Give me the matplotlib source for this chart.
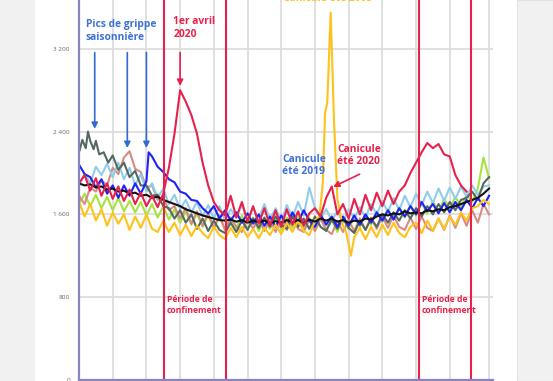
import numpy as np
import matplotlib.pyplot as plt
from matplotlib.patches import Rectangle

plt.rcParams['font.family'] = ['Open Sans', 'DejaVu Sans']

# jours de l'année (pas de 5 jours)
jours = list(range(0, 366, 5))

# moyenne (noir)
moyenne = [1900, 1880, 1890, 1860, 1870, 1840, 1850, 1820, 1830, 1800,
           1810, 1780, 1790, 1760, 1770, 1740, 1720, 1700, 1680, 1650,
           1630, 1610, 1590, 1575, 1560, 1545, 1540, 1550, 1530, 1545,
           1520, 1540, 1525, 1540, 1515, 1535, 1520, 1545, 1525, 1545,
           1520, 1550, 1530, 1560, 1540, 1560, 1530, 1545, 1520, 1540,
           1530, 1560, 1550, 1580, 1600, 1590, 1610, 1600, 1630, 1610,
           1620, 1610, 1640, 1630, 1650, 1640, 1670, 1680, 1700, 1720,
           1740, 1760, 1800, 1850]

bleu_clair = [1880, 1990, 1900, 2060, 1980, 2090, 1960, 2100, 1940, 2050,
              1880, 1990, 1820, 1900, 1760, 1850, 1700, 1790, 1650, 1740,
              1620, 1720, 1580, 1690, 1560, 1680, 1540, 1650, 1570, 1690,
              1540, 1660, 1560, 1700, 1550, 1660, 1530, 1690, 1570, 1720,
              1590, 1860, 1660, 1560, 1650, 1540, 1630, 1520, 1650, 1560,
              1670, 1570, 1700, 1600, 1730, 1620, 1760, 1640, 1780, 1670,
              1800, 1690, 1820, 1710, 1850, 1730, 1860, 1750, 1870, 1770,
              1880, 1790, 1870, 1880]

vert = [1700, 1800, 1680, 1790, 1660, 1770, 1640, 1760, 1630, 1730,
        1620, 1720, 1590, 1700, 1570, 1680, 1550, 1650, 1520, 1630,
        1500, 1610, 1480, 1590, 1460, 1580, 1450, 1560, 1470, 1590,
        1450, 1570, 1440, 1560, 1460, 1580, 1450, 1570, 1470, 1590,
        1460, 1570, 1440, 1560, 1450, 1550, 1430, 1570, 1460, 1580,
        1480, 1600, 1500, 1630, 1530, 1650, 1550, 1670, 1570, 1690,
        1590, 1710, 1610, 1730, 1620, 1750, 1650, 1770, 1670, 1790,
        1720, 1850, 2150, 1950]

saumon = [1780, 1700, 1860, 1820, 1930, 1880, 2050, 1990, 2150, 2210,
          2040, 2010, 1860, 1880, 1740, 1760, 1640, 1680, 1560, 1660,
          1510, 1630, 1490, 1610, 1470, 1590, 1450, 1570, 1480, 1430,
          1560, 1460, 1570, 1440, 1550, 1430, 1560, 1450, 1570, 1460,
          1430, 1550, 1440, 1560, 1450, 1410, 1540, 1430, 1550, 1440,
          1560, 1450, 1570, 1460, 1580, 1470, 1590, 1480, 1450, 1570,
          1460, 1580, 1470, 1440, 1560, 1450, 1590, 1470, 1610, 1490,
          1640, 1520, 1700, 1600]

# 2020 (données jusqu'à mi-décembre)
annee_2020 = [1900, 1980, 1830, 1950, 1780, 1900, 1750, 1870, 1730, 1840,
              1700, 1810, 1680, 1780, 1670, 1800, 2050, 2380, 2800, 2690,
              2560, 2380, 2100, 1880, 1720, 1640, 1590, 1780, 1570, 1720,
              1530, 1680, 1510, 1660, 1490, 1640, 1480, 1650, 1500, 1630,
              1490, 1610, 1660, 1580, 1760, 1870, 1600, 1700, 1560, 1750,
              1600, 1790, 1640, 1810, 1680, 1830, 1700, 1820, 1880, 2000,
              2100, 2200, 2290, 2240, 2280, 2180, 2160, 1980, 1880, 1820]

# 2003
jours_2003 = list(range(0, 211, 5)) + [214, 217, 219, 221, 224, 227, 230, 234, 238, 242, 245] + list(range(250, 366, 5))
annee_2003 = [1720, 1580, 1700, 1540, 1650, 1490, 1620, 1510, 1600, 1450,
              1580, 1470, 1600, 1460, 1430, 1540, 1430, 1520, 1400, 1500,
              1390, 1490, 1420, 1370, 1480, 1400, 1360, 1470, 1380, 1480,
              1380, 1460, 1370, 1470, 1400, 1500, 1410, 1520, 1430, 1540,
              1440, 1400, 1540,
              1580, 1900, 2580, 2680, 3550, 2500, 1750, 1520, 1420, 1200, 1380,
              1470, 1360, 1480, 1380, 1500, 1400, 1520, 1420, 1380, 1480,
              1520, 1420, 1540, 1440, 1560, 1460, 1580, 1500, 1620, 1540,
              1660, 1680, 1740, 1700]

jours_bleu = list(range(0, 61, 5)) + [62] + list(range(65, 366, 5))
bleu = [2080, 1990, 1960, 1860, 1940, 1800, 1880, 1760, 1880, 1780, 1900, 1800, 1920,
        2200,
        2160, 2060, 2010, 1940, 1910, 1820, 1800, 1740, 1730, 1660,
        1610, 1680, 1560, 1640, 1540, 1620, 1520, 1610, 1510, 1600,
        1490, 1580, 1480, 1590, 1500, 1620, 1520, 1640, 1540, 1480,
        1600, 1500, 1580, 1480, 1580, 1490, 1590, 1500, 1600, 1520,
        1620, 1540, 1640, 1550, 1660, 1580, 1680, 1600, 1720, 1630,
        1700, 1610, 1710, 1620, 1720, 1640, 1740, 1660, 1760, 1680,
        1780]

jours_gris = [0, 3, 6, 8, 10, 13, 15, 18, 22, 26, 30] + list(range(35, 366, 5))
gris = [2200, 2320, 2240, 2400, 2310, 2230, 2310, 2180, 2200, 2100, 2170,
        2030, 2100, 1960, 2020, 1880, 1880, 1780, 1790, 1680, 1660,
        1560, 1640, 1520, 1600, 1460, 1560, 1440, 1540, 1450, 1420,
        1520, 1430, 1540, 1450, 1560, 1470, 1570, 1480, 1580, 1500,
        1460, 1580, 1480, 1560, 1460, 1580, 1480, 1440, 1550, 1460,
        1560, 1470, 1420, 1540, 1450, 1560, 1480, 1600, 1520, 1620,
        1540, 1640, 1560, 1660, 1580, 1680, 1600, 1700, 1620, 1720,
        1640, 1740, 1760, 1820, 1740, 1900, 1960]

confinements = [76, 131, 303, 349]

ROUGE = '#E8204C'
BLEU_TXT = '#3F72D6'
JAUNE = '#FFC21A'

fig = plt.figure(figsize=(5.53, 3.81), dpi=100)
fig.patches.append(Rectangle((0, 0), 35 / 553, 1, transform=fig.transFigure,
                             facecolor='#F1F1F2', edgecolor='none', zorder=0))
fig.patches.append(Rectangle((517 / 553, 0), 36 / 553, 1, transform=fig.transFigure,
                             facecolor='#F1F1F2', edgecolor='#E2E2E4', lw=0.8, zorder=0))

ax = fig.add_axes([79 / 553, 1 / 381, 414 / 553, 414 / 381])
ax.set_xlim(0, 368.5)
ax.set_ylim(0, 4000)

ax.set_yticks([0, 800, 1600, 2400, 3200])
ax.set_yticklabels(['0', '800', '1 600', '2 400', '3 200'])
ax.set_xticks(list(range(30, 331, 30)) + [365])
ax.set_xticklabels([])
ax.tick_params(length=0, labelsize=4.6, labelcolor='#666666', pad=6.5)
ax.grid(True, color='#DDDDDD', lw=1.3)
ax.set_axisbelow(True)
for s in ['top', 'right']:
    ax.spines[s].set_visible(False)
for s in ['left', 'bottom']:
    ax.spines[s].set_color('#8884C2')
    ax.spines[s].set_linewidth(1.6)
    ax.spines[s].set_zorder(5)

lw = 1.5
ax.plot(jours, vert, color='#A6E33C', lw=lw)
ax.plot(jours, saumon, color='#D98B82', lw=lw)
ax.plot(jours, bleu_clair, color='#8FCDEA', lw=lw)
ax.plot(jours_gris, gris, color='#56695F', lw=lw)
ax.plot(jours_bleu, bleu, color='#1E22F5', lw=lw)
ax.plot(jours_2003, annee_2003, color=JAUNE, lw=lw)
ax.plot(jours, moyenne, color='#111111', lw=lw)
ax.plot(jours[:len(annee_2020)], annee_2020, color=ROUGE, lw=lw)

for c in confinements:
    ax.axvline(c, color=ROUGE, lw=1.5, zorder=4)

# annotations
txt = dict(fontweight='bold', fontsize=7.4, va='center', ha='left', linespacing=1.15)
ax.text(6, 3372, 'Pics de grippe\nsaisonnière', color=BLEU_TXT, **txt)
ax.text(84, 3400, '1er avril\n2020', color=ROUGE, **txt)
ax.text(181, 2072, 'Canicule\nété 2019', color=BLEU_TXT, **txt)
ax.text(230, 2169, 'Canicule\nété 2020', color=ROUGE, **txt)
ax.text(221, 3690, 'Canicule été 2003', color=JAUNE, fontweight='bold',
        fontsize=7.4, ha='center', va='center')

small = dict(fontweight='bold', fontsize=6.2, va='center', ha='left',
             color=ROUGE, linespacing=1.2)
ax.text(78, 725, 'Période de\nconfinement', **small)
ax.text(305, 725, 'Période de\nconfinement', **small)

fleche_bleue = dict(arrowstyle='-|>,head_width=0.18,head_length=0.35', color='#2F6BD0', lw=1.2)
for xa, ya in [(14, 2400), (43, 2215), (60, 2215)]:
    ax.annotate('', xy=(xa, ya), xytext=(xa, 3190), arrowprops=fleche_bleue)

fleche_rouge = dict(arrowstyle='-|>,head_width=0.18,head_length=0.35', color=ROUGE, lw=1.2)
ax.annotate('', xy=(90, 2815), xytext=(90, 3190), arrowprops=fleche_rouge)
ax.annotate('', xy=(224, 1855), xytext=(252, 2000), arrowprops=fleche_rouge)

fig.savefig('out.png', dpi=100)
